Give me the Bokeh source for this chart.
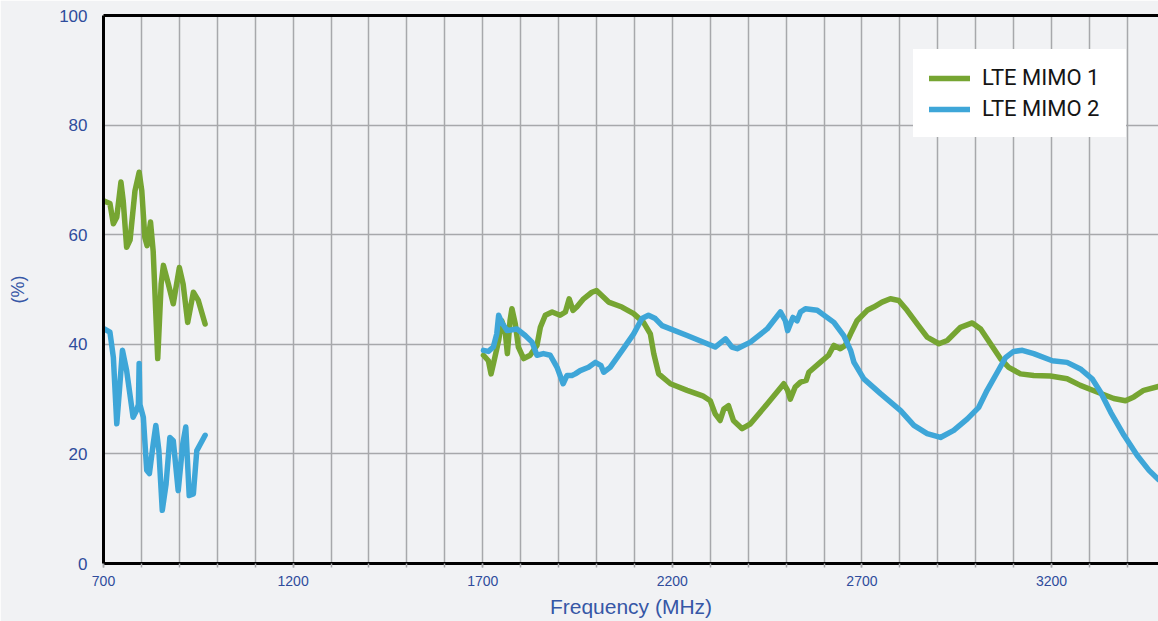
from bokeh.plotting import figure
from bokeh.models import Range1d, FixedTicker, LinearAxis, Legend, LegendItem
from bokeh.embed import file_html
from bokeh.resources import INLINE

# ---- data ----
x_tick_values = [700, 1200, 1700, 2200, 2700, 3200]
x_grid_values = list(range(700, 3500, 100))
y_tick_values = [0, 20, 40, 60, 80, 100]

series_names = ["LTE MIMO 1", "LTE MIMO 2"]

green_low_x = [700, 717, 726, 735, 746, 752, 761, 770, 783, 794, 801, 809, 815, 824, 831, 843,
               852, 858, 871, 884, 900, 910, 922, 937, 950, 968]
green_low_y = [66.2, 65.7, 62, 63.2, 69.6, 66.2, 57.7, 59, 68, 71.4, 68, 59.5, 58, 62.3, 57, 37.4,
               51, 54.4, 51, 47.4, 54, 51, 44, 49.5, 48, 43.7]

green_high_x = [1702, 1715, 1722, 1728, 1742, 1750, 1759, 1765, 1772, 1777, 1786, 1794, 1808, 1825,
                1843, 1852, 1865, 1883, 1904, 1918, 1928, 1938, 1948, 1966, 1988, 2000, 2014, 2032,
                2067, 2098, 2124, 2142, 2151, 2164, 2195, 2239, 2280, 2300, 2313, 2326, 2336, 2348,
                2361, 2384, 2406, 2450, 2494, 2504, 2511, 2524, 2538, 2553, 2560, 2590, 2612, 2626,
                2643, 2656, 2670, 2687, 2714, 2731, 2753, 2775, 2797, 2819, 2846, 2872, 2903, 2925,
                2960, 2991, 3013, 3039, 3065, 3087, 3118, 3153, 3197, 3241, 3276, 3320, 3364, 3395,
                3417, 3443, 3482]
green_high_y = [38, 37, 34.6, 36.4, 40.7, 44.3, 42.5, 38.3, 44.3, 46.5, 43.7, 39.5, 37.4, 38,
                39.8, 43.1, 45.3, 45.9, 45.3, 45.9, 48.3, 46.2, 46.8, 48.3, 49.5, 49.8, 48.9, 47.7,
                46.8, 45.6, 44, 41.9, 38.3, 34.6, 32.8, 31.6, 30.6, 29.7, 27.3, 26.1, 28.2, 28.8,
                26.1, 24.6, 25.5, 29.1, 32.8, 31.6, 30, 32.2, 33.1, 33.4, 34.9, 36.7, 38, 39.8,
                39.2, 39.8, 41.9, 44.3, 46.2, 46.8, 47.7, 48.3, 48, 46.2, 43.7, 41.3, 40.1, 40.7,
                43.1, 43.9, 42.8, 40.1, 37.4, 35.8, 34.6, 34.3, 34.2, 33.7, 32.5, 31.3, 30.1, 29.7,
                30.4, 31.6, 32.3]

blue_low_x = [702, 717, 726, 735, 742, 750, 761, 778, 787, 792, 794, 796, 805, 814, 821, 831, 838,
              846, 855, 865, 875, 884, 897, 909, 917, 926, 937, 946, 968]
blue_low_y = [42.8, 42.2, 37.6, 25.5, 31.6, 38.9, 35.2, 26.7, 27.9, 29, 36.5, 29, 26.7, 17, 16.4,
              21.8, 25.2, 20.6, 9.7, 14.5, 23, 22.4, 13.3, 21.8, 24.9, 12.4, 12.7, 20.6, 23.4]

blue_high_x = [1702, 1715, 1728, 1737, 1742, 1750, 1764, 1790, 1812, 1830, 1843, 1860, 1878, 1896,
               1912, 1922, 1935, 1944, 1957, 1979, 1997, 2012, 2019, 2036, 2071, 2098, 2120, 2137,
               2155, 2173, 2239, 2313, 2340, 2357, 2371, 2406, 2450, 2485, 2498, 2504, 2518, 2529,
               2538, 2551, 2582, 2626, 2652, 2670, 2679, 2705, 2749, 2802, 2837, 2872, 2907, 2942,
               2978, 3008, 3030, 3057, 3079, 3100, 3123, 3153, 3202, 3241, 3276, 3307, 3329, 3356,
               3391, 3426, 3457, 3482]
blue_high_y = [38.9, 38.7, 39.5, 41.9, 45.3, 44, 42.5, 42.8, 41.6, 40.4, 38, 38.3, 38, 35.8,
               32.8, 34.3, 34.3, 34.6, 35.2, 35.8, 36.7, 36.1, 34.9, 35.8, 39.2, 41.9, 44.7, 45.3,
               44.7, 43.4, 41.6, 39.5, 41, 39.5, 39.2, 40.4, 42.8, 45.9, 44.3, 42.5, 44.9, 44.3,
               45.9, 46.5, 46.2, 44, 41.6, 38.9, 36.7, 33.7, 31, 27.9, 25.2, 23.7, 23, 24.3,
               26.4, 28.5, 31.6, 34.9, 37.6, 38.7, 38.9, 38.3, 37, 36.7, 35.5, 33.7, 31.3, 27.6,
               23.4, 19.7, 17, 15.3]

# ---- styling ----
BG = "#f1f2f4"
GREEN = "#76a532"
BLUE = "#3ea6d8"
TICK_COLOR = "#2f4c9c"
TITLE_COLOR = "#3657a6"
GRID_COLOR = "#a7a8ab"

p = figure(width=1158, height=621, x_range=Range1d(700, 3482), y_range=Range1d(0, 100),
           output_backend="svg", toolbar_location=None,
           min_border_left=103, min_border_right=0, min_border_top=15, min_border_bottom=58)
p.background_fill_color = BG
p.border_fill_color = BG
p.outline_line_color = None

nan = float("nan")
gx = green_low_x + [nan] + green_high_x
gy = green_low_y + [nan] + green_high_y
bx = blue_low_x + [nan] + blue_high_x
by = blue_low_y + [nan] + blue_high_y

r1 = p.line(gx, gy, line_color=GREEN, line_width=5.5, line_join="round", line_cap="round")
r2 = p.line(bx, by, line_color=BLUE, line_width=5.5, line_join="round", line_cap="round")

# grids
p.xgrid.ticker = FixedTicker(ticks=x_grid_values)
p.ygrid.ticker = FixedTicker(ticks=y_tick_values)
for g in (p.xgrid, p.ygrid):
    g.grid_line_color = GRID_COLOR
    g.grid_line_width = 1.5

# x axis
xa = p.xaxis[0]
xa.ticker = FixedTicker(ticks=x_tick_values, minor_ticks=x_grid_values)
xa.axis_line_color = "black"
xa.axis_line_width = 3
xa.major_tick_line_color = GRID_COLOR
xa.minor_tick_line_color = GRID_COLOR
xa.major_tick_in = 0
xa.minor_tick_in = 0
xa.major_tick_out = 4
xa.minor_tick_out = 4
xa.major_tick_line_width = 1.5
xa.minor_tick_line_width = 1.5
xa.major_label_standoff = 8
xa.major_label_text_font = "Liberation Sans"
xa.major_label_text_font_size = "14px"
xa.major_label_text_color = TICK_COLOR
xa.axis_label = "Frequency (MHz)"
xa.axis_label_text_font = "Liberation Sans"
xa.axis_label_text_font_size = "21px"
xa.axis_label_text_font_style = "normal"
xa.axis_label_text_color = TITLE_COLOR
xa.axis_label_standoff = 6

# y axis
ya = p.yaxis[0]
ya.ticker = FixedTicker(ticks=y_tick_values)
ya.axis_line_color = "black"
ya.axis_line_width = 3
ya.major_tick_line_color = None
ya.minor_tick_line_color = None
ya.major_tick_in = 0
ya.major_tick_out = 0
ya.major_label_standoff = 16
ya.major_label_text_font = "Liberation Sans"
ya.major_label_text_font_size = "17px"
ya.major_label_text_color = TICK_COLOR
ya.axis_label = "(%)"
ya.axis_label_text_font = "Liberation Sans"
ya.axis_label_text_font_size = "18px"
ya.axis_label_text_font_style = "normal"
ya.axis_label_text_color = TITLE_COLOR
ya.axis_label_standoff = 28

# top border as an unlabelled axis
top = LinearAxis(ticker=FixedTicker(ticks=[]), axis_line_color="black", axis_line_width=3,
                 major_tick_line_color=None, minor_tick_line_color=None,
                 major_tick_in=0, major_tick_out=0, minor_tick_in=0, minor_tick_out=0,
                 major_label_standoff=0, major_label_text_font_size="0px")
p.add_layout(top, "above")

legend = Legend(items=[LegendItem(label=series_names[0], renderers=[r1]),
                       LegendItem(label=series_names[1], renderers=[r2])],
                location=(810, 426))
legend.background_fill_color = "white"
legend.background_fill_alpha = 1
legend.border_line_color = "white"
legend.border_line_width = 1
legend.label_text_font = "Roboto"
legend.label_text_font_size = "22px"
legend.label_text_color = "#151515"
legend.glyph_width = 41
legend.glyph_height = 24
legend.label_height = 24
legend.label_width = 128
legend.label_standoff = 12
legend.spacing = 6
legend.padding = 15
legend.margin = 0
p.add_layout(legend, "center")

open("out.html", "w").write(file_html(p, INLINE))
